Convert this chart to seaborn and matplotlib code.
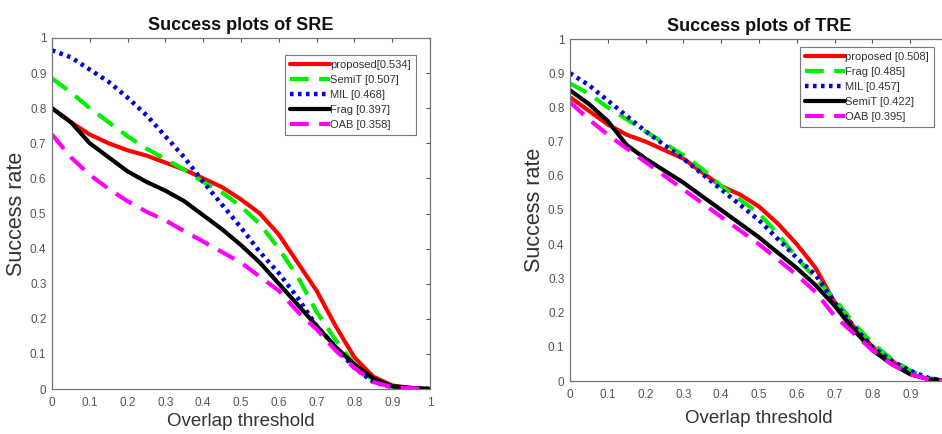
import numpy as np
import pandas as pd
import matplotlib
matplotlib.use("Agg")
import matplotlib.pyplot as plt
import seaborn as sns

thresholds = [0, .05, .1, .15, .2, .25, .3, .35, .4, .45, .5, .55, .6, .65, .7, .75, .8, .85, .9, .95, 1.0]

# SRE
sre_proposed = [.80, .76, .725, .70, .68, .665, .645, .625, .60, .575, .54, .50, .44, .36, .28, .18, .09, .035, .01, .003, 0]
sre_semit = [.885, .845, .80, .76, .72, .685, .655, .625, .59, .56, .52, .47, .40, .32, .22, .14, .07, .025, .005, .002, 0]
sre_mil = [.965, .945, .91, .875, .83, .78, .72, .66, .59, .525, .46, .39, .33, .26, .18, .12, .06, .02, .005, .002, 0]
sre_frag = [.80, .76, .70, .66, .62, .59, .565, .535, .495, .455, .41, .36, .30, .24, .18, .12, .07, .03, .008, .003, 0]
sre_oab = [.725, .66, .61, .57, .535, .505, .48, .45, .42, .39, .36, .32, .28, .22, .17, .11, .06, .02, .005, .002, 0]
sre_labels = ["proposed[0.534]", "SemiT [0.507]", "MIL [0.468]", "Frag [0.397]", "OAB [0.358]"]

# TRE
tre_proposed = [.83, .79, .75, .72, .70, .675, .65, .61, .57, .545, .51, .46, .40, .33, .23, .16, .10, .06, .02, .005, 0]
tre_frag = [.87, .84, .80, .765, .73, .695, .66, .62, .57, .53, .49, .43, .36, .30, .24, .17, .11, .065, .03, .008, 0]
tre_mil = [.90, .865, .82, .775, .73, .69, .65, .605, .56, .515, .47, .415, .36, .31, .23, .16, .10, .06, .03, .008, 0]
tre_semit = [.85, .81, .76, .69, .65, .615, .58, .54, .50, .46, .42, .375, .33, .28, .22, .15, .09, .05, .02, .005, 0]
tre_oab = [.815, .765, .72, .68, .64, .60, .56, .52, .48, .44, .40, .355, .31, .26, .19, .14, .09, .05, .02, .005, 0]
tre_labels = ["proposed [0.508]", "Frag [0.485]", "MIL [0.457]", "SemiT [0.422]", "OAB [0.395]"]

tick_vals = [0, .1, .2, .3, .4, .5, .6, .7, .8, .9, 1]
tick_labels = ["0", "0.1", "0.2", "0.3", "0.4", "0.5", "0.6", "0.7", "0.8", "0.9", "1"]

sns.set_style("white")
plt.rcParams['font.family'] = ['Liberation Sans', 'DejaVu Sans']

styles = [
    dict(color="#ff0000", linestyle="-", linewidth=3.0),
    dict(color="#00ee00", linestyle=(0, (4.5, 2.5)), linewidth=3.0),
    dict(color="#0000dd", linestyle=(0, (0.8, 1.0)), linewidth=3.2),
    dict(color="#000000", linestyle="-", linewidth=3.0),
    dict(color="#ff00ff", linestyle=(0, (4.5, 2.5)), linewidth=3.0),
]

fig = plt.figure(figsize=(9.42, 4.34), dpi=100)
ax1 = fig.add_axes([52/942, 1-389/434, 378/942, 351/434])
ax2 = fig.add_axes([570/942, 1-381/434, 378/942, 342/434])

def draw(ax, series, labels, title, leg_anchor, xpad):
    for vals, lab, st in zip(series, labels, styles):
        sns.lineplot(x=thresholds, y=vals, ax=ax, label=lab, **st)
    ax.set_xlim(0, 1)
    ax.set_ylim(0, 1)
    ax.set_xticks(tick_vals)
    ax.set_xticklabels(tick_labels)
    ax.set_yticks(tick_vals)
    ax.set_yticklabels(tick_labels)
    ax.tick_params(direction="in", top=True, right=True, length=3, width=0.8,
                   labelsize=8.5, colors="#555555")
    ax.tick_params(axis="x", pad=6)
    ax.tick_params(axis="y", pad=4)
    for s in ax.spines.values():
        s.set_color("#777777")
        s.set_linewidth(0.9)
    ax.set_title(title, fontsize=13, fontweight="bold", color="#111111", pad=6)
    ax.set_xlabel("Overlap threshold", fontsize=13.5, color="#333333", labelpad=xpad)
    ax.set_ylabel("Success rate", fontsize=15.5, color="#333333", labelpad=2)
    leg = ax.legend(loc="upper right", bbox_to_anchor=leg_anchor, fontsize=8,
                    frameon=True, fancybox=False,
                    handlelength=3.6, handletextpad=0.0, borderpad=0.45,
                    labelspacing=0.45, borderaxespad=0.0)
    leg.get_frame().set_edgecolor("#555555")
    leg.get_frame().set_linewidth(0.8)
    for t in leg.get_texts():
        t.set_color("#333333")

draw(ax1, [sre_proposed, sre_semit, sre_mil, sre_frag, sre_oab], sre_labels,
     "Success plots of SRE", (0.963, 0.952), 3)
draw(ax2, [tre_proposed, tre_frag, tre_mil, tre_semit, tre_oab], tre_labels,
     "Success plots of TRE", (0.963, 0.977), 6)
# the reference image is cropped at the right: the last tick label is not visible
ax2.get_xticklabels()[-1].set_visible(False)

fig.savefig("out.png", dpi=100)
